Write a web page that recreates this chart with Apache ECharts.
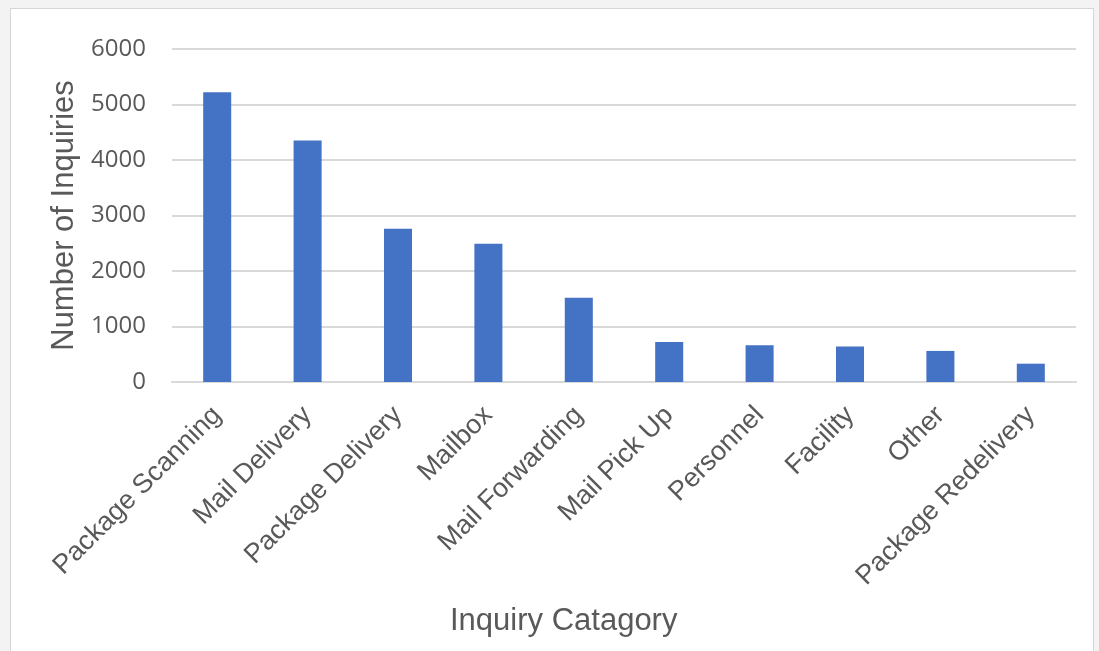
<!DOCTYPE html>
<html>
<head>
<meta charset="utf-8">
<title>Inquiries by category</title>
<script src="https://cdn.jsdelivr.net/npm/echarts@6/dist/echarts.min.js"></script>
<style>
  html, body { margin: 0; padding: 0; background: #f3f3f3; }
  #chart {
    position: absolute; left: 10px; top: 8px;
    width: 1084px; height: 660px;
    background: #fff; border: 1px solid #d6d6d6; box-sizing: border-box;
  }
</style>
</head>
<body>
<div id="chart"></div>
<script>
const categories = ['Package Scanning', 'Mail Delivery', 'Package Delivery', 'Mailbox',
  'Mail Forwarding', 'Mail Pick Up', 'Personnel', 'Facility', 'Other', 'Package Redelivery'];
const inquiries = [5220, 4350, 2760, 2490, 1520, 720, 660, 640, 560, 330];
const yTicks = [0, 1000, 2000, 3000, 4000, 5000, 6000];

const TEXT = '#595959';
const chart = echarts.init(document.getElementById('chart'));

chart.setOption({
  animation: false,
  grid: { left: 161, right: 17, top: 40, bottom: 285 },
  xAxis: {
    type: 'category',
    data: categories,
    axisLine: { lineStyle: { color: '#d9d9d9', width: 2 } },
    axisTick: { show: false },
    axisLabel: {
      rotate: 45,
      margin: 29,
      interval: 0,
      color: TEXT,
      fontFamily: 'Liberation Sans',
      fontSize: 27
    }
  },
  yAxis: {
    type: 'value',
    min: yTicks[0],
    max: yTicks[yTicks.length - 1],
    interval: 1000,
    name: 'Number of Inquiries',
    nameLocation: 'middle',
    nameGap: 91,
    nameTextStyle: { color: TEXT, fontFamily: 'Liberation Sans', fontSize: 31 },
    axisLine: { show: false },
    axisTick: { show: false },
    splitLine: { lineStyle: { color: '#d9d9d9', width: 2 } },
    axisLabel: {
      margin: 26, color: TEXT, fontFamily: 'Open Sans', fontSize: 24,
      formatter: v => String(v)
    }
  },
  graphic: [{
    type: 'text',
    left: 449 - 10,
    top: 605 - 8,
    style: { text: 'Inquiry Catagory', fill: TEXT, font: '31px "Liberation Sans"' }
  }],
  series: [{
    type: 'bar',
    data: inquiries,
    barWidth: '31%',
    itemStyle: { color: '#4472C4' }
  }]
});
</script>
</body>
</html>
